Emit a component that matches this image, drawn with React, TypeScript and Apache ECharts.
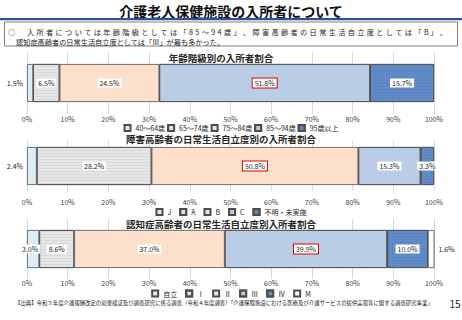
import React, { useEffect, useRef } from "react";
import * as echarts from "echarts";

const ageCats = ["40～64歳", "65～74歳", "75～84歳", "85～94歳", "95歳以上"];
const ageVals = [1.5, 6.5, 24.5, 51.8, 15.7];
const adlCats = ["J", "A", "B", "C", "不明・未実施"];
const adlVals = [2.4, 28.2, 50.8, 15.3, 3.3];
const demCats = ["自立", "Ⅰ", "Ⅱ", "Ⅲ", "Ⅳ", "M"];
const demVals = [3.0, 8.6, 37.0, 39.9, 10.0, 1.6];

const chartTitles = [
  "年齢階級別の入所者割合",
  "障害高齢者の日常生活自立度別の入所者割合",
  "認知症高齢者の日常生活自立度別入所者割合",
];
const pageTitle = "介護老人保健施設の入所者について";
const summary1 = "入所者については年齢階級としては「85～94歳」、障害高齢者の日常生活自立度としては「B」、";
const summary2 = "認知症高齢者の日常生活自立度としては「Ⅲ」が最も多かった。";
const source = "【出典】令和３年度介護報酬改定の効果検証及び調査研究に係る調査（令和４年度調査）「介護保険施設における医療及び介護サービスの提供実態等に関する調査研究事業」";
const pageNo = "15";

const FONT = "'Noto Sans CJK JP', 'Noto Sans', sans-serif";

const palette = ["#dcedf5", "#e6e6e6", "#fce0cb", "#b9cce6", "#5b86c5", "#ffffff"];
const grayDecal = {
  symbol: "rect",
  symbolSize: 1,
  dashArrayX: [1, 0],
  dashArrayY: [1, 1.5],
  color: "rgba(180,180,180,0.25)",
};
const dotDecal = {
  symbol: "circle",
  symbolSize: 0.6,
  dashArrayX: [2, 1],
  dashArrayY: [2, 1],
  color: "rgba(255,255,255,0.15)",
};

const charts = [
  { cats: ageCats, vals: ageVals, gridTop: 52, gridH: 62, margin: 1, legendTop: 124, gap: 2, titleY: 58 },
  { cats: adlCats, vals: adlVals, gridTop: 141, gridH: 50, margin: 7, legendTop: 208, gap: 8, titleY: 138.5 },
  { cats: demCats, vals: demVals, gridTop: 219, gridH: 60, margin: 0, legendTop: 289.5, gap: 8, titleY: 224 },
];

const SUMF = 7.2;

export default function App() {
  const ref = useRef<HTMLDivElement>(null);
  useEffect(() => {
    document.body.style.margin = "0";
    const chart = echarts.init(ref.current!, null, { renderer: "svg" });
    const grids: any[] = [];
    const xAxes: any[] = [];
    const yAxes: any[] = [];
    const legends: any[] = [];
    const series: any[] = [];
    charts.forEach((c, i) => {
      grids.push({ left: 27, right: 28, top: c.gridTop, height: c.gridH });
      xAxes.push({
        type: "value",
        gridIndex: i,
        min: 0,
        max: 100,
        interval: 10,
        axisLine: { show: false },
        axisTick: { show: false },
        splitLine: { show: true, lineStyle: { color: "#d9d9d9", width: 1 } },
        axisLabel: {
          formatter: "{value}%",
          fontSize: 7,
          color: "#404040",
          margin: c.margin,
          fontFamily: FONT,
        },
      });
      yAxes.push({
        type: "category",
        gridIndex: i,
        data: [""],
        axisLine: { show: false },
        axisTick: { show: false },
        axisLabel: { show: false },
      });
      legends.push({
        data: c.cats,
        top: c.legendTop,
        left: "center",
        padding: 0,
        itemWidth: 6,
        itemHeight: 6,
        itemGap: c.gap,
        icon: "rect",
        textStyle: { fontSize: 7, color: "#262626", fontFamily: FONT },
      });
      const maxV = Math.max(...c.vals);
      c.vals.forEach((v, j) => {
        const isMax = v === maxV;
        let position: any = "inside";
        let bg: any = "#ffffff";
        let offset: any = [0, 0];
        if (i < 2 && j === 0) {
          position = "left";
          bg = "transparent";
        }
        if (i === 2 && j === 0) offset = [-3, 0];
        if (i === 2 && j === 5) {
          position = "right";
          bg = "transparent";
        }
        const colorIdx = j === c.vals.length - 1 && i < 2 ? 4 : j;
        const decal = colorIdx === 1 ? grayDecal : colorIdx >= 3 && colorIdx <= 4 ? dotDecal : undefined;
        series.push({
          type: "bar",
          name: c.cats[j],
          stack: "s" + i,
          xAxisIndex: i,
          yAxisIndex: i,
          barWidth: 38,
          data: [v],
          itemStyle: {
            color: palette[colorIdx],
            borderColor: "#4d4d4d",
            borderWidth: 0.8,
            decal,
          },
          label: {
            show: true,
            position,
            offset,
            formatter: (p: any) => p.value.toFixed(1) + "%",
            fontSize: 7,
            color: "#262626",
            fontFamily: FONT,
            backgroundColor: bg,
            padding: [1, 2],
            borderColor: isMax ? "#e00000" : "transparent",
            borderWidth: isMax ? 1 : 0,
            distance: 2,
          },
        });
      });
    });

    // justified first summary line (distributed per character)
    const chars = Array.from(summary1);
    const cw = chars.map((ch) => (ch.charCodeAt(0) < 128 ? 0.56 * SUMF : SUMF));
    const natural = cw.reduce((a, b) => a + b, 0);
    const x0 = 27;
    const x1 = 447;
    const extra = (x1 - x0 - natural) / (chars.length - 1);
    let cx = x0;
    const line1: any[] = chars.map((ch, k) => {
      const el = {
        type: "text",
        x: cx,
        y: 32,
        silent: true,
        style: { text: ch, font: `${SUMF}px ${FONT}`, fill: "#222", textVerticalAlign: "middle" },
      };
      cx += cw[k] + extra;
      return el;
    });

    const graphic: any[] = [
      {
        type: "text",
        x: 231,
        y: 11,
        style: {
          text: pageTitle,
          font: `bold 14px ${FONT}`,
          fill: "#111",
          textAlign: "center",
          textVerticalAlign: "middle",
        },
      },
      { type: "rect", shape: { x: 0, y: 18, width: 462, height: 2.2 }, style: { fill: "#2a52a0" } },
      {
        type: "rect",
        shape: { x: 4.5, y: 22, width: 453, height: 24 },
        style: { fill: "none", stroke: "#808080", lineWidth: 1 },
      },
      {
        type: "text",
        x: 8,
        y: 32,
        style: { text: "○", font: `${SUMF}px ${FONT}`, fill: "#222", textVerticalAlign: "middle" },
      },
      ...line1,
      {
        type: "text",
        x: 16,
        y: 42,
        style: { text: summary2, font: `${SUMF}px ${FONT}`, fill: "#222", textVerticalAlign: "middle" },
      },
      ...chartTitles.map((t, i) => ({
        type: "text",
        x: 221,
        y: charts[i].titleY,
        z: 10,
        style: {
          text: t,
          font: `bold 9.5px ${FONT}`,
          fill: "#262626",
          textAlign: "center",
          textVerticalAlign: "middle",
          backgroundColor: "#ffffff",
          padding: [0, 3],
        },
      })),
      {
        type: "text",
        x: 15,
        y: 302.5,
        style: { text: source, font: `5.4px ${FONT}`, fill: "#222", textVerticalAlign: "middle" },
      },
      {
        type: "text",
        x: 455,
        y: 303,
        style: { text: pageNo, font: `10px ${FONT}`, fill: "#222", textAlign: "center", textVerticalAlign: "middle" },
      },
    ];

    chart.setOption({
      animation: false,
      textStyle: { fontFamily: FONT },
      grid: grids,
      xAxis: xAxes,
      yAxis: yAxes,
      legend: legends,
      series,
      graphic,
    });
    return () => chart.dispose();
  }, []);
  return <div ref={ref} style={{ width: 462, height: 320 }} />;
}
